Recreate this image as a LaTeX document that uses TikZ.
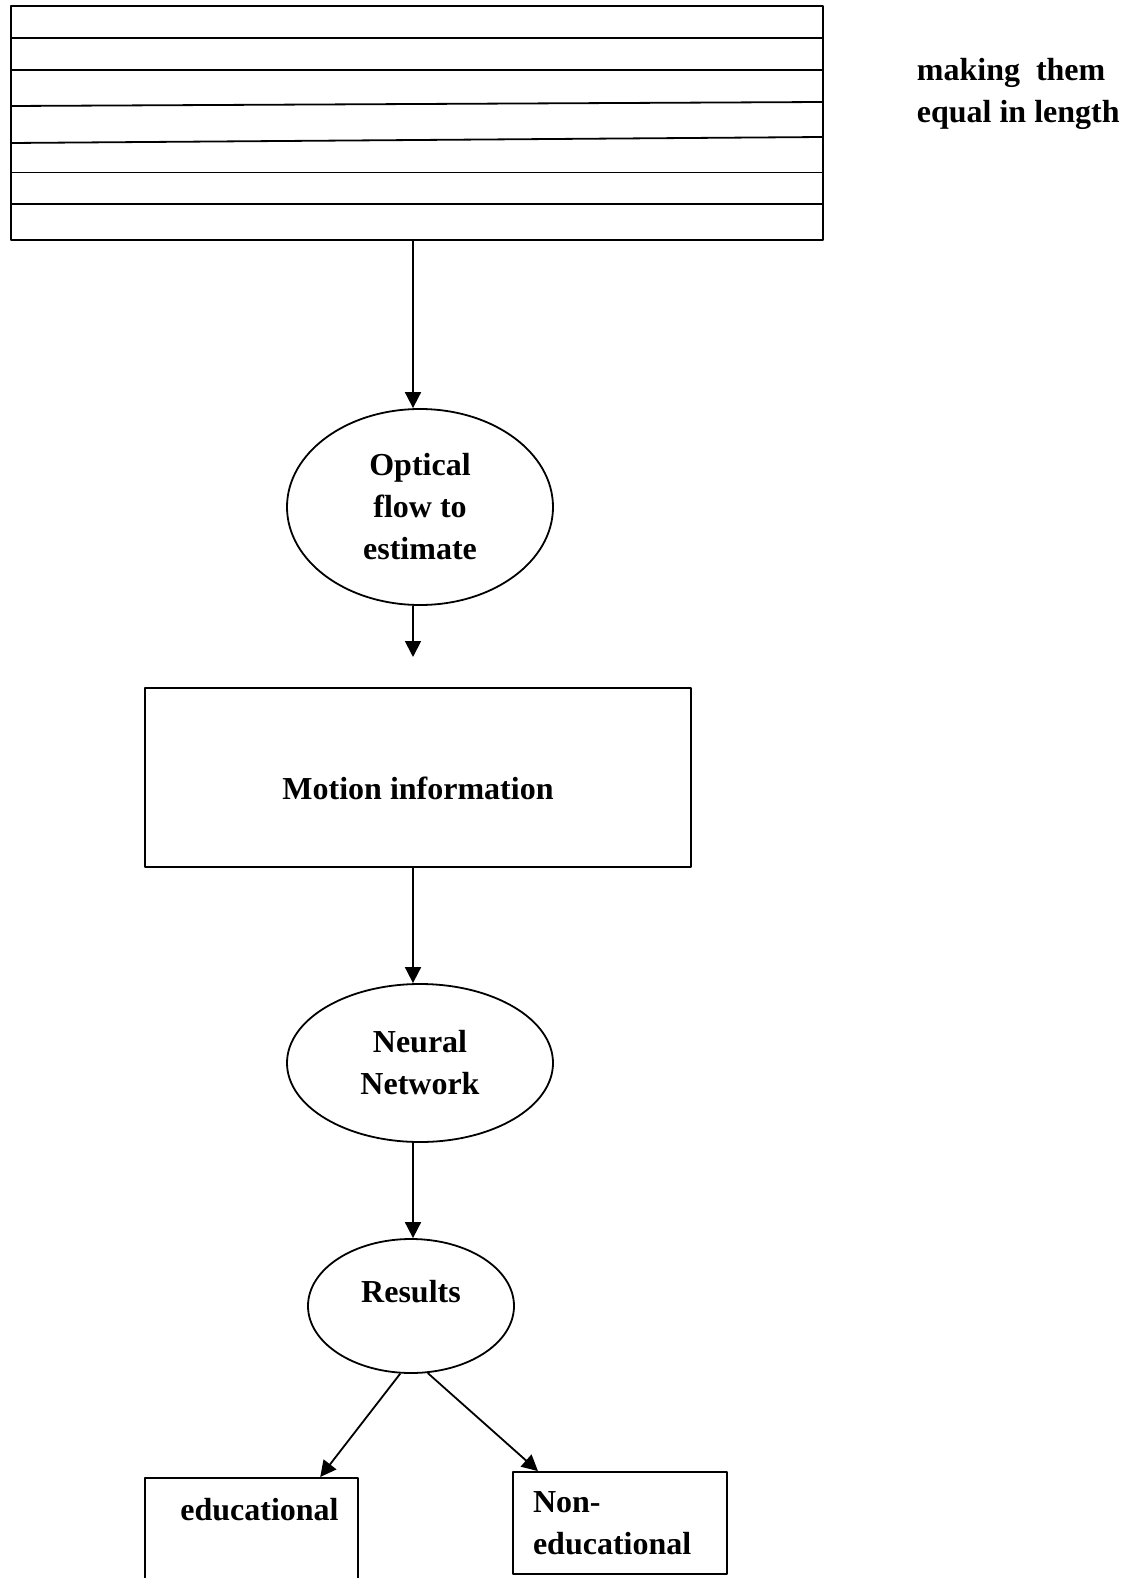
\documentclass[tikz,border=0pt]{standalone}
\usepackage{fontspec}
\setmainfont{Liberation Serif}
\usetikzlibrary{shapes.geometric,arrows.meta,calc}
\begin{document}
\begin{tikzpicture}[x=1pt, y=-1pt, line width=1.8pt, line join=round, >={Triangle[length=16pt,width=16pt]},
  font=\fontsize{32}{42}\selectfont\bfseries,
  oval/.style={draw, ellipse, inner sep=0pt, align=center},
  box/.style={draw, rectangle, inner sep=0pt, align=center}]
\def\xaxis{413}
\useasboundingbox (0,0) rectangle (1138,1578);
\clip (0,0) rectangle (1138,1578);
\node[box, minimum width=812pt, minimum height=234pt] (frames) at (417,123) {};
\foreach \y in {38,70,172.5,204} \draw (11,\y) -- (823,\y);
\draw (11,106) -- (823,102);
\draw (11,143) -- (823,137);
\node[anchor=west, inner sep=0pt, align=left] (note) at (916,94) {making\ \ them\\equal in length};
\node[oval, minimum width=266pt, minimum height=196pt] (optical) at (420,507) {Optical\\flow to\\estimate};
\node[box, minimum width=546pt, minimum height=179pt, text height=50pt, text depth=6pt] (motion) at (418,777.5) {Motion information};
\node[oval, minimum width=266pt, minimum height=158pt] (neural) at (420,1063) {Neural\\Network};
\node[oval, minimum width=206pt, minimum height=134pt, text height=22pt, text depth=30pt] (results) at (411,1306) {Results};
\node[box, minimum width=213pt, anchor=north, inner sep=12pt, text height=31pt, text depth=100pt] (edu) at (251.5,1477) {\hspace*{16pt}educational};
\node[box, minimum width=214pt, minimum height=102pt, text width=174pt, align=left] (nonedu) at (620,1523) {Non-\\educational};
\coordinate (gap) at (\xaxis,657);
\draw[->] (frames.south -| \xaxis,0) -- (optical.north -| \xaxis,0);
\draw[->] (optical.south -| \xaxis,0) -- (gap);
\draw[->] (motion.south -| \xaxis,0) -- (neural.north -| \xaxis,0);
\draw[->] (neural.south -| \xaxis,0) -- (results.north -| \xaxis,0);
\draw[->] (results.261) -- ($(edu.north west)!0.82!(edu.north east)$);
\draw[->] (results.284) -- ($(nonedu.north west)!0.12!(nonedu.north east)$);
\end{tikzpicture}
\end{document}
